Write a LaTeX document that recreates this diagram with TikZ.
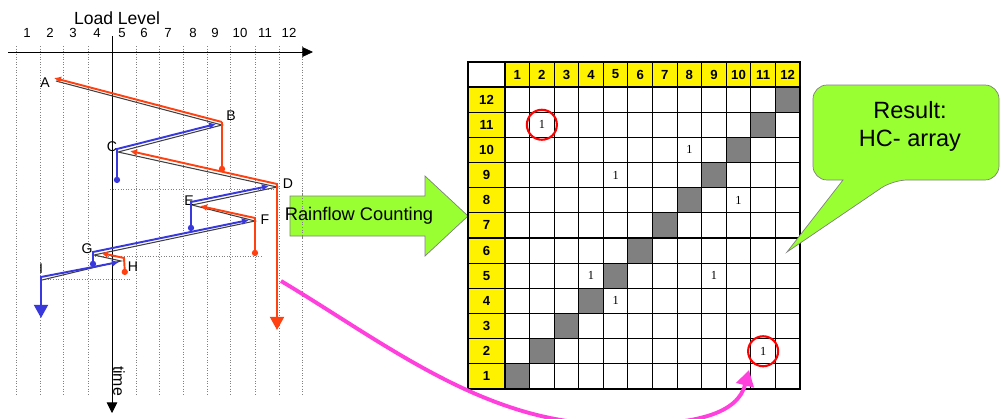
\documentclass[tikz,border=0pt]{standalone}
\usepackage{fontspec}
\setmainfont{Liberation Sans}
\newfontfamily\cellfont{Liberation Serif}
\usetikzlibrary{arrows.meta}

\definecolor{rfred}{RGB}{255,64,16}
\definecolor{rfblue}{RGB}{56,56,220}
\definecolor{rfgreen}{RGB}{153,255,51}
\definecolor{rfpink}{RGB}{255,64,220}
\definecolor{cellgray}{RGB}{128,128,128}

\begin{document}
\begin{tikzpicture}[x=0.02cm,y=-0.02cm,
  flowred/.style={draw=rfred,line width=1.1pt},
  flowblue/.style={draw=rfblue,line width=1.1pt},
  dotline/.style={draw=gray,densely dotted,line width=0.5pt},
  ptlabel/.style={font=\fontsize{8}{9}\selectfont,inner sep=0pt},
  hdr/.style={font=\fontsize{7.5}{9}\selectfont\bfseries,inner sep=0pt},
  val/.style={font=\cellfont\fontsize{7}{8}\selectfont,inner sep=0pt},
  ring/.style={draw=red,circle,line width=1.2pt,minimum size=0.6cm}]

   \useasboundingbox (0,0) rectangle (1001,419);

   % load level axis
   \node[font=\fontsize{10}{12}\selectfont] (loadlbl) at (117,18) {Load Level};
   \foreach \n/\x in {1/27,2/50,3/73,4/97,5/122,6/144,7/168,8/193,9/215,10/240,11/265,12/289}
      \node[font=\fontsize{7.5}{9}\selectfont] (lv\n) at (\x,33) {\n};
   \foreach \x in {16,40,63,88,136,159,183,207,230,255,279,302}
      \draw[dotline] (\x,46) -- (\x,396);
   \draw[-{Triangle[length=6pt,width=5.5pt]}] (8,52) -- (313,52);
   \draw[-{Triangle[length=6pt,width=6pt]}] (112,36) -- (112,413);
   \node[rotate=-90,font=\fontsize{9}{10}\selectfont] (timelbl) at (119,381) {time};

   \draw[dotline] (110,189) -- (277,189);
   \draw[dotline] (95,256) -- (262,256);
   \draw[dotline] (45,279) -- (130,279);

   % load history
   \coordinate (A) at (56,81);
   \coordinate (B) at (222,125);
   \coordinate (C) at (118,152);
   \coordinate (D) at (277,187);
   \coordinate (E) at (192,205);
   \coordinate (F) at (255,221);
   \coordinate (G) at (94,255);
   \coordinate (H) at (121,261);
   \coordinate (I) at (42,280);
   \draw[darkgray,line width=0.6pt] (A) -- (B) -- (C) -- (D) -- (E) -- (F) -- (G) -- (H) -- (I);

   \node[ptlabel] (lA) at (45,83) {A};
   \node[ptlabel] (lB) at (231,116) {B};
   \node[ptlabel] (lC) at (112,147) {C};
   \node[ptlabel] (lD) at (288,184) {D};
   \node[ptlabel] (lE) at (189,201) {E};
   \node[ptlabel] (lF) at (265,220) {F};
   \node[ptlabel] (lG) at (87,249) {G};
   \node[ptlabel] (lH) at (133,267) {H};
   \node[ptlabel] (lI) at (41,269) {I};

   % rainflow: red
   \draw[flowred,-{Latex[length=4pt,width=4pt]}] (222,122) -- (54,78);
   \draw[flowred,-{Circle[length=3.5pt]}] (222,122) -- (222,172);
   \draw[flowred,{Latex[length=4pt,width=4pt]}-{Triangle[length=7.5pt,width=8pt]}] (130,151) -- (277,184) -- (277,330);
   \draw[flowred,{Latex[length=4pt,width=4pt]}-{Circle[length=3.5pt]}] (200,206) -- (255,218) -- (255,256);
   \draw[flowred,{Latex[length=4pt,width=4pt]}-{Circle[length=3.5pt]}] (101,253) -- (124,258) -- (125,275);

   % rainflow: blue
   \draw[flowblue,{Circle[length=3.5pt]}-{Latex[length=4pt,width=4pt]}] (117,183) -- (117,149) -- (216,124);
   \draw[flowblue,{Circle[length=3.5pt]}-{Latex[length=4pt,width=4pt]}] (191,231) -- (191,202) -- (269,186);
   \draw[flowblue,{Circle[length=3.5pt]}-{Latex[length=4pt,width=4pt]}] (93,267) -- (93,252) -- (249,220);
   \draw[flowblue,{Triangle[length=7.5pt,width=8pt]}-{Latex[length=4pt,width=4pt]}] (41,318) -- (41,277) -- (119,262);

   % arrow to matrix
   \draw[fill=rfgreen,draw=gray] (290,196) -- (425,196) -- (425,176) -- (468,216) -- (425,256) -- (425,236) -- (290,236) -- cycle;
   \draw[dotline] (302,190) -- (302,240);
   \node[font=\fontsize{10.4}{12}\selectfont] (rainflow) at (359,216) {Rainflow Counting};

   % HC-array
   \fill[yellow] (505,62) rectangle (800,87);
   \fill[yellow] (468,87) rectangle (505,389);
   \foreach \k in {1,...,12}
      \fill[cellgray] ({505+24.583*(\k-1)},{87+25.167*(12-\k)}) rectangle ++(24.583,25.167);
   \foreach \k in {0,...,12} {
      \draw[line width=0.6pt] ({505+24.583*\k},62) -- ({505+24.583*\k},389);
      \draw[line width=0.6pt] (468,{87+25.167*\k}) -- (800,{87+25.167*\k});
   }
   \draw[line width=1.6pt] (468,62) rectangle (800,389);
   \foreach \k in {1,...,12} {
      \node[hdr] (col\k) at ({505+24.583*(\k-0.5)},74.5) {\k};
      \node[hdr] (row\k) at (486.5,{87+25.167*(12.5-\k)}) {\k};
   }
   \foreach \c/\r in {8/10,5/9,10/8,4/5,9/5,5/4}
      \node[val] (v\c-\r) at ({505+24.583*(\c-0.5)},{87+25.167*(12.5-\r)}) {1};
   \node[val,ring] (v2-11) at ({505+24.583*1.5},{87+25.167*1.5}) {1};
   \node[val,ring] (v11-2) at ({505+24.583*10.5},{87+25.167*10.5}) {1};

   % callout
   \draw[fill=rfgreen,draw=gray] (843,180) [rounded corners=8pt] -- (813,180) -- (813,85) -- (999,85) -- (999,180) -- (893,180) [sharp corners] -- (787,252) -- cycle;
   \node[align=center,font=\fontsize{13.4}{16}\selectfont] (result) at (910,126) {Result:\\HC- array};

   % pink connector
   \coordinate (rainfrom) at (281,281);
   \coordinate (hit) at (749,370);
   \draw[rfpink,line width=2.2pt,-{Triangle[length=9pt,width=10pt]}] (rainfrom) .. controls (380,340) and (480,420) .. (600,424) .. controls (700,428) and (738,412) .. (hit);

 \end{tikzpicture}
\end{document}
